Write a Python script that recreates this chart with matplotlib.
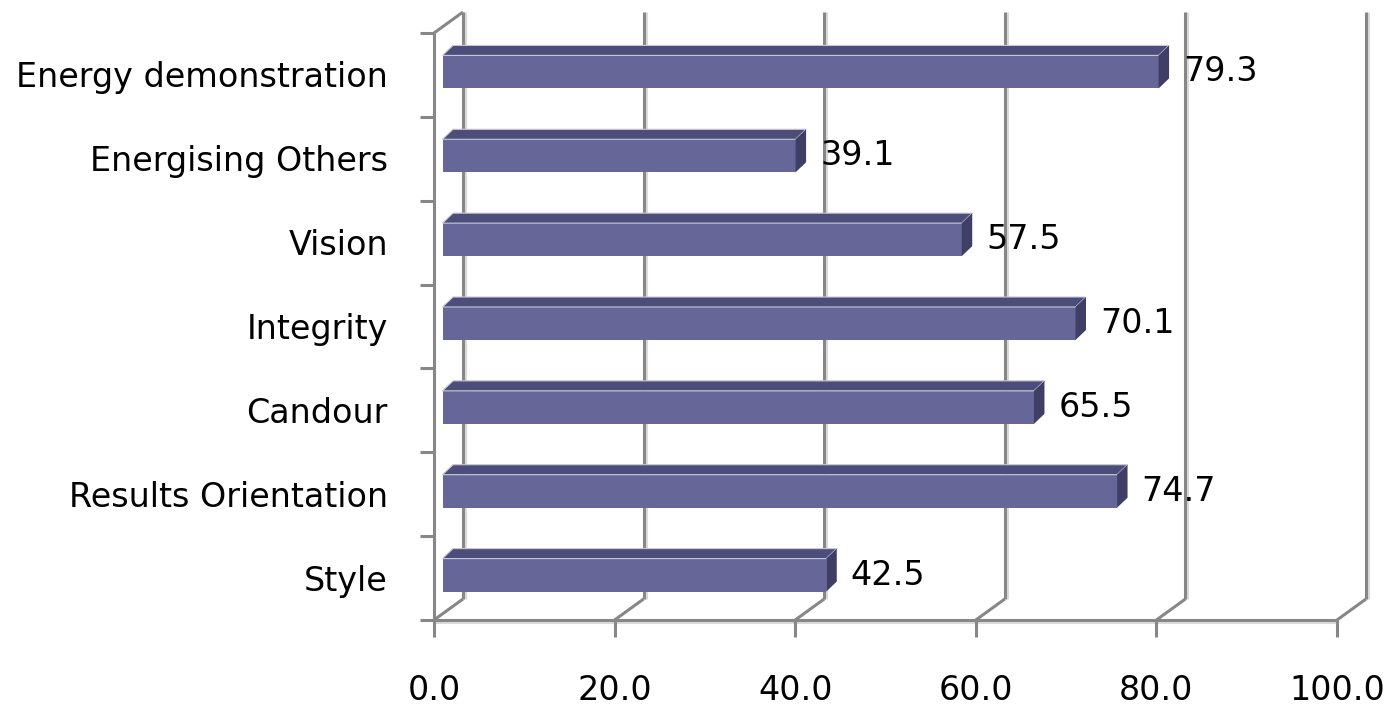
import matplotlib
matplotlib.use("Agg")
import matplotlib.pyplot as plt
from matplotlib.patches import Polygon, Rectangle

categories = ["Style", "Results Orientation", "Candour", "Integrity",
              "Vision", "Energising Others", "Energy demonstration"]
values = [42.5, 74.7, 65.5, 70.1, 57.5, 39.1, 79.3]
xticks = [0, 20, 40, 60, 80, 100]
xticklabels = ["0.0", "20.0", "40.0", "60.0", "80.0", "100.0"]

W, H = 1390, 706
fig = plt.figure(figsize=(W / 100, H / 100), dpi=100)
AX_L, AX_B, AX_W, AX_H = 434, 86, 903, 587
ax = fig.add_axes([AX_L / W, AX_B / H, AX_W / W, AX_H / H])
ax.set_xlim(0, 100)
ax.set_ylim(-0.5, len(categories) - 0.5)
ax.axis("off")

ux = 100 / AX_W
uy = len(categories) / AX_H
DX, DY = 29 * ux, 21 * uy
y0, y1 = -0.5, len(categories) - 0.5

grid_c = "#878787"
shadow_c = "#dadada"
lw = 2.2
FS = 24

def line(xs, ys, c=grid_c, lw=lw, z=1):
    ax.plot(xs, ys, color=c, lw=lw, clip_on=False, zorder=z, solid_capstyle="butt")

# back wall gridlines + floor diagonals
for v in xticks:
    line([v + DX + 2 * ux] * 2, [y0 + DY, y1 + DY], c=shadow_c, z=0.5)
    line([v + DX] * 2, [y0 + DY, y1 + DY])
    line([v, v + DX], [y0, y0 + DY])
    line([v, v], [y0, y0 - 17 * uy])

# front floor line and left axis
line([0, 100], [y0 - 2 * uy, y0 - 2 * uy], c=shadow_c, z=0.5)
line([0, 100], [y0, y0])
line([0, 0], [y0, y1])
line([0, DX], [y1, y1 + DY])
for b in range(len(categories) + 1):
    yb = b - 0.5
    line([-14 * ux, 0], [yb, yb])

# 3D bars
fx, fy = 8.5 * ux, 3 * uy        # front face offset
bdx, bdy = 10.5 * ux, 10 * uy    # bar depth
hh = 33 * uy
front_c = "#666699"
top_c = "#4d4d7c"
side_c = "#3e3e66"
for i, v in enumerate(values):
    yb, yt = i - hh / 2 + fy, i + hh / 2 + fy
    ax.add_patch(Rectangle((fx, yb), v, hh, facecolor=front_c, edgecolor="none",
                           zorder=3, clip_on=False))
    top = [(fx, yt), (v + fx, yt), (v + fx + bdx, yt + bdy), (fx + bdx, yt + bdy)]
    ax.add_patch(Polygon(top, closed=True, facecolor=top_c, edgecolor="#c9c9d6",
                         lw=0.8, zorder=3, clip_on=False))
    side = [(v + fx, yb), (v + fx, yt), (v + fx + bdx, yt + bdy), (v + fx + bdx, yb + bdy)]
    ax.add_patch(Polygon(side, closed=True, facecolor=side_c, edgecolor="none",
                         zorder=3, clip_on=False))
    ax.text(v + fx + bdx + 14 * ux, i + fy, f"{v:.1f}", fontsize=FS,
            ha="left", va="center", color="black", zorder=4)

# category labels
for i, c in enumerate(categories):
    ax.text(-46 * ux, i - 3 * uy, c, fontsize=FS, ha="right", va="center", color="black")

# x tick labels
for v, t in zip(xticks, xticklabels):
    ax.text(v, y0 - 70 * uy, t, fontsize=FS, ha="center", va="center", color="black")

fig.savefig("out.png", dpi=100, facecolor="white")
